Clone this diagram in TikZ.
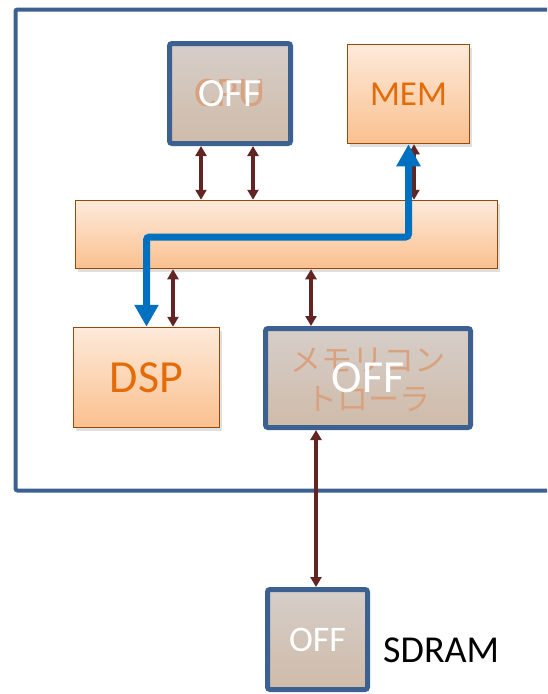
\documentclass[tikz,border=0pt]{standalone}
\usepackage{fontspec}
\setmainfont{Carlito}
\newfontfamily\jpfont{Noto Sans CJK JP}
\usetikzlibrary{arrows.meta,shadows,positioning}
\definecolor{frameblue}{HTML}{3C6090}
\definecolor{linkred}{HTML}{632523}
\definecolor{routeblue}{HTML}{0070C0}
\definecolor{orangetop}{HTML}{FDEADA}
\definecolor{orangebot}{HTML}{FAC08F}
\definecolor{orangeedge}{HTML}{984807}
\definecolor{orangetext}{HTML}{E36C09}
\definecolor{graytop}{HTML}{D6CEC9}
\definecolor{graybot}{HTML}{CFBBA9}
\definecolor{ghost}{HTML}{D8A27E}

\begin{document}
\begin{tikzpicture}[x=1pt,y=-1pt,
  unit/.style={draw=orangeedge,line width=1.5pt,top color=orangetop,bottom color=orangebot,
    text=orangetext,inner sep=0pt,drop shadow={opacity=0.25,shadow xshift=2pt,shadow yshift=-3pt}},
  offunit/.style={draw=frameblue,line width=5pt,rounded corners=2.5pt,top color=graytop,bottom color=graybot,
    inner sep=0pt,drop shadow={opacity=0.15,shadow xshift=1.5pt,shadow yshift=-2pt}},
  offtext/.style={text=white,inner sep=0pt},
  ghosttext/.style={text=ghost,inner sep=0pt},
  link/.style={linkred,line width=4pt,{Triangle[width=11pt,length=10pt]}-{Triangle[width=11pt,length=10pt]}},
  route/.style={routeblue,line width=7pt,rounded corners=3pt,{Triangle[width=23pt,length=22pt]}-{Triangle[width=23pt,length=22pt]}}]
  \useasboundingbox (0,0) rectangle (547,694);
  \clip (0,0) rectangle (547,694);
  \draw [frameblue,line width=4pt,rounded corners=2pt] (15.5,9.5) rectangle (620,490.5);
  \node [offunit,minimum width=121pt,minimum height=100pt] (cpu) at (230,93.5) {};
  \node [ghosttext,font=\fontsize{42}{46}\selectfont] at (cpu.center) {CPU};
  \node [offtext,font=\fontsize{40}{44}\selectfont] (cpuoff) at (cpu.center) {OFF};
  \node [unit,minimum width=122pt,minimum height=99pt,font=\fontsize{35}{40}\selectfont] (mem) at (408.5,94) {MEM};
  \node [unit,minimum width=422pt,minimum height=68pt] (bus) at (286.5,234.5) {};
  \node [unit,minimum width=146pt,minimum height=100pt,font=\fontsize{46}{50}\selectfont] (dsp) at (146.5,377.5) {DSP};
  \node [offunit,minimum width=205pt,minimum height=99pt] (mc) at (368,378) {};
  \node [ghosttext,align=center,font=\jpfont\fontsize{31}{39}\selectfont] at ([yshift=-2pt]mc.center) {メモリコン\\トローラ};
  \node [offtext,font=\fontsize{46}{50}\selectfont] (mcoff) at (mc.center) {OFF};
  \node [offunit,minimum width=100pt,minimum height=100pt] (sdram) at (317.5,639.5) {};
  \node [offtext,font=\fontsize{36}{40}\selectfont] (sdramoff) at (sdram.center) {OFF};
  \node [inner sep=0pt,anchor=west,font=\fontsize{38}{42}\selectfont] (sdramlabel) at ([xshift=13pt,yshift=-10.5pt]sdram.east) {SDRAM};
  \foreach \dx in {-29,23}
    \draw [link] ([xshift=\dx pt]cpu.south) -- ([xshift=\dx pt]cpu.south |- bus.north);
  \draw [link] ([xshift=5.5pt]mem.south) -- ([xshift=5.5pt]mem.south |- bus.north);
  \draw [link] ([xshift=26.5pt]dsp.north |- bus.south) -- ([xshift=26.5pt]dsp.north);
  \draw [link] ([xshift=-57pt]mc.north |- bus.south) -- ([xshift=-57pt]mc.north);
  \draw [link] ([xshift=-52pt]mc.south) -- ([xshift=-52pt]mc.south |- sdram.north);
  \draw [route] (mem.south) |- ([yshift=-2.5pt]bus.center) -| (dsp.north);
\end{tikzpicture}
\end{document}
